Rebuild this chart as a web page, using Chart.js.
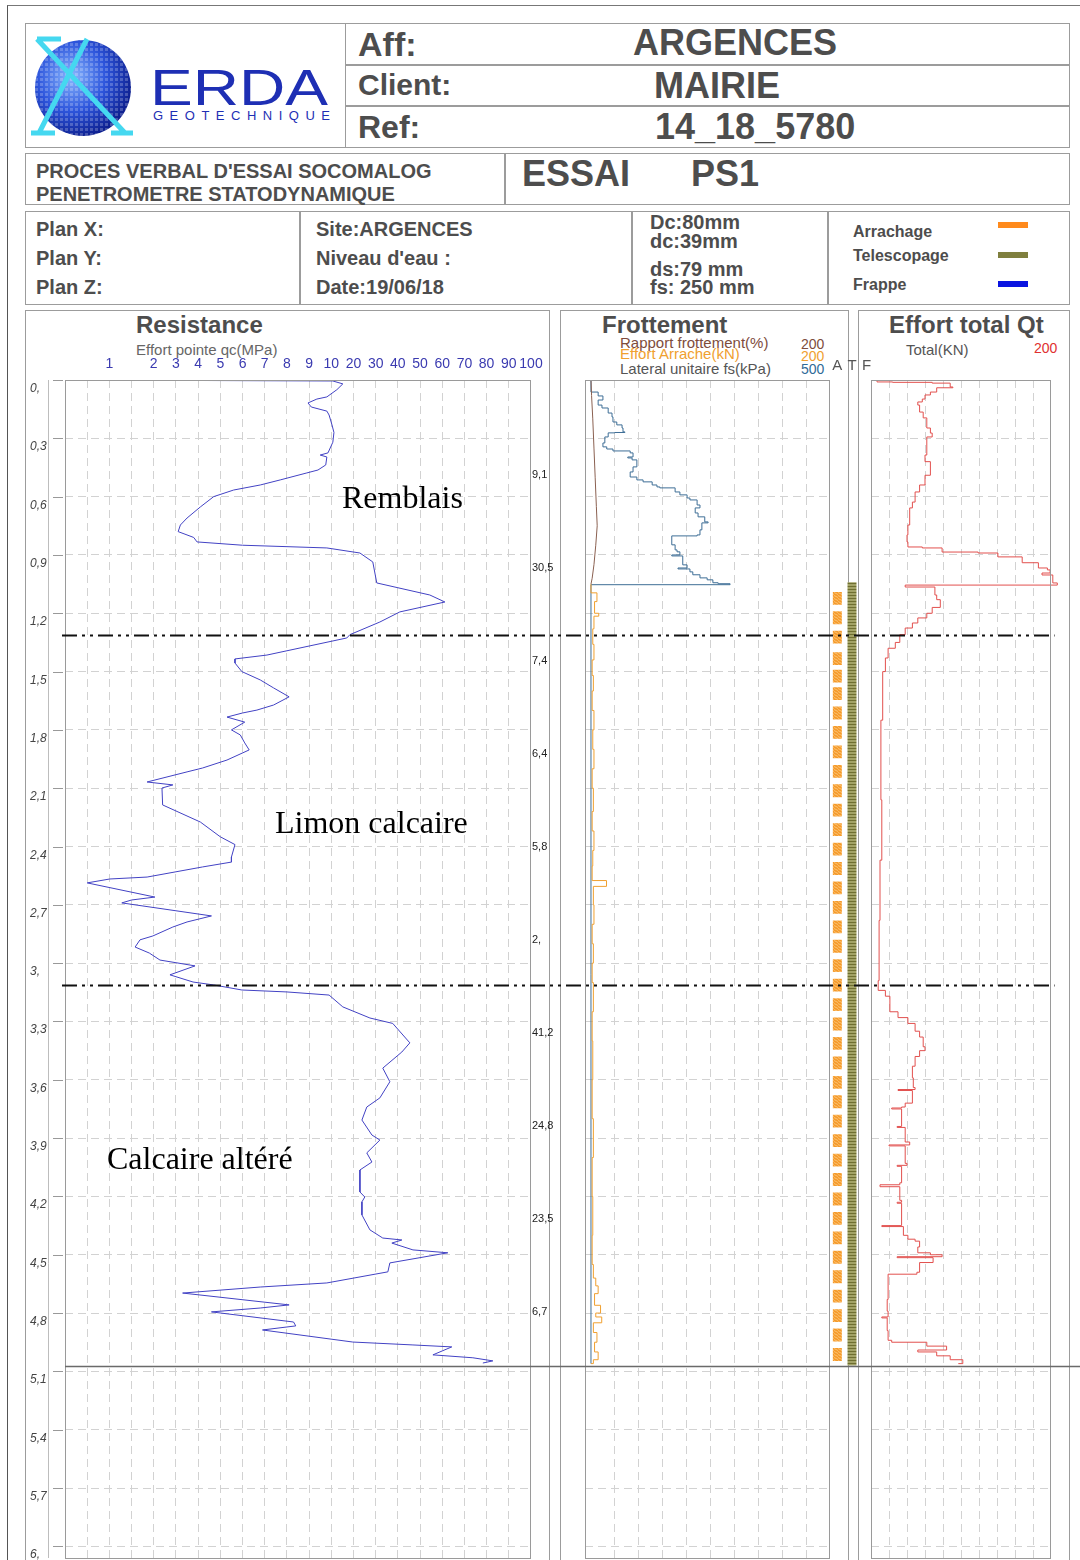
<!DOCTYPE html>
<html>
<head>
<meta charset="utf-8">
<script src="https://cdn.jsdelivr.net/npm/chart.js@4.4.1/dist/chart.umd.min.js"></script>
<style>
body { margin:0; background:#fff; font-family:"Liberation Sans", Arial, sans-serif; }
#page { position:relative; width:1080px; height:1560px; overflow:hidden; background:#fff; }
.abs { position:absolute; }
.cell { position:absolute; border:1.5px solid #9c9c9c; box-sizing:border-box; }
.t { position:absolute; white-space:nowrap; color:#4d4d4d; font-weight:bold; line-height:1; }
.n { position:absolute; white-space:nowrap; line-height:1; }
.layer { position:absolute; white-space:nowrap; line-height:1; font-family:"Liberation Serif", "Times New Roman", serif; font-size:32px; color:#000; }
canvas { position:absolute; }
</style>
</head>
<body>
<div id="page">
  <!-- page frame -->
  <div class="abs" style="left:7px;top:5px;width:1080px;height:1560px;border-left:1.5px solid #555;border-top:1.5px solid #777;"></div>

  <!-- header box 1 -->
  <div class="cell" style="left:25px;top:23px;width:321px;height:125px;"></div>
  <div class="cell" style="left:345px;top:23px;width:725px;height:43px;"></div>
  <div class="cell" style="left:345px;top:64px;width:725px;height:43px;"></div>
  <div class="cell" style="left:345px;top:105px;width:725px;height:43px;"></div>
  <svg class="abs" style="left:25px;top:23px" width="320" height="125">
    <defs>
      <radialGradient id="gl" cx="38%" cy="38%" r="65%">
        <stop offset="0" stop-color="#8ab8ff"/>
        <stop offset="0.55" stop-color="#2d55dc"/>
        <stop offset="1" stop-color="#0e2090"/>
      </radialGradient>
      <pattern id="dots" width="5" height="5" patternUnits="userSpaceOnUse">
        <rect x="0" y="0" width="3" height="3" fill="rgba(255,255,255,0.22)"/>
      </pattern>
    </defs>
    <circle cx="58" cy="65" r="48" fill="url(#gl)"/>
    <circle cx="58" cy="65" r="48" fill="url(#dots)"/>
    <path d="M12 16 L100 110 M62 16 L14 110 M6 110 L30 110 M86 110 L108 110 M12 16 L36 16" stroke="#45d8f0" stroke-width="5" fill="none"/>
    <text x="125" y="82" font-family="Liberation Sans, Arial" font-size="50" fill="#1e2fb4" textLength="178" lengthAdjust="spacingAndGlyphs">ERDA</text>
    <text x="128" y="97" font-family="Liberation Sans, Arial" font-size="13" fill="#1e2fb4" textLength="177" lengthAdjust="spacing">GEOTECHNIQUE</text>
  </svg>
  <div class="t" style="left:358px;top:27px;font-size:34px;">Aff:</div>
  <div class="t" style="left:633px;top:25px;font-size:36px;">ARGENCES</div>
  <div class="t" style="left:358px;top:70px;font-size:30px;">Client:</div>
  <div class="t" style="left:654px;top:68px;font-size:36px;">MAIRIE</div>
  <div class="t" style="left:358px;top:111px;font-size:32px;">Ref:</div>
  <div class="t" style="left:655px;top:109px;font-size:36px;">14_18_5780</div>

  <!-- header box 2 -->
  <div class="cell" style="left:25px;top:153px;width:481px;height:52px;"></div>
  <div class="cell" style="left:504px;top:153px;width:566px;height:52px;"></div>
  <div class="t" style="left:36px;top:161px;font-size:20px;">PROCES VERBAL D'ESSAI SOCOMALOG</div>
  <div class="t" style="left:36px;top:184px;font-size:20px;">PENETROMETRE STATODYNAMIQUE</div>
  <div class="t" style="left:522px;top:156px;font-size:36px;">ESSAI</div>
  <div class="t" style="left:691px;top:156px;font-size:36px;">PS1</div>

  <!-- header box 3 -->
  <div class="cell" style="left:25px;top:211px;width:276px;height:94px;"></div>
  <div class="cell" style="left:299px;top:211px;width:334px;height:94px;"></div>
  <div class="cell" style="left:631px;top:211px;width:198px;height:94px;"></div>
  <div class="cell" style="left:827px;top:211px;width:243px;height:94px;"></div>
  <div class="t" style="left:36px;top:219px;font-size:20px;">Plan X:</div>
  <div class="t" style="left:36px;top:248px;font-size:20px;">Plan Y:</div>
  <div class="t" style="left:36px;top:277px;font-size:20px;">Plan Z:</div>
  <div class="t" style="left:316px;top:219px;font-size:20px;">Site:ARGENCES</div>
  <div class="t" style="left:316px;top:248px;font-size:20px;">Niveau d'eau :</div>
  <div class="t" style="left:316px;top:277px;font-size:20px;">Date:19/06/18</div>
  <div class="t" style="left:650px;top:212px;font-size:20px;">Dc:80mm</div>
  <div class="t" style="left:650px;top:231px;font-size:20px;">dc:39mm</div>
  <div class="t" style="left:650px;top:259px;font-size:20px;">ds:79 mm</div>
  <div class="t" style="left:650px;top:277px;font-size:20px;">fs: 250 mm</div>
  <div class="t" style="left:853px;top:224px;font-size:16px;">Arrachage</div>
  <div class="t" style="left:853px;top:248px;font-size:16px;">Telescopage</div>
  <div class="t" style="left:853px;top:277px;font-size:16px;">Frappe</div>
  <div class="abs" style="left:998px;top:222px;width:30px;height:6px;background:#ff8a1c;"></div>
  <div class="abs" style="left:998px;top:252px;width:30px;height:6px;background:#7f7f3e;"></div>
  <div class="abs" style="left:998px;top:281px;width:30px;height:6px;background:#0a14e0;"></div>

  <!-- panels -->
  <div class="cell" style="left:25px;top:310px;width:525px;height:1270px;"></div>
  <div class="cell" style="left:560px;top:310px;width:289px;height:1270px;"></div>
  <div class="cell" style="left:858px;top:310px;width:212px;height:1270px;"></div>

  <div class="t" style="left:136px;top:313px;font-size:24px;">Resistance</div>
  <div class="n" style="left:136px;top:342px;font-size:15px;color:#666;">Effort pointe qc(MPa)</div>
  <div class="t" style="left:602px;top:313px;font-size:24px;">Frottement</div>
  <div class="n" style="left:620px;top:335px;font-size:15px;color:#7e4c3c;">Rapport frottement(%)</div>
  <div class="n" style="left:620px;top:346px;font-size:15px;color:#f0a030;">Effort Arrache(kN)</div>
  <div class="n" style="left:620px;top:361px;font-size:15px;color:#555;">Lateral unitaire fs(kPa)</div>
  <div class="n" style="left:801px;top:337px;font-size:14px;color:#7e4c3c;">200</div>
  <div class="n" style="left:801px;top:349px;font-size:14px;color:#f0a030;">200</div>
  <div class="n" style="left:801px;top:362px;font-size:14px;color:#2f6a98;">500</div>
  <div class="t" style="left:889px;top:313px;font-size:24px;">Effort total Qt</div>
  <div class="n" style="left:906px;top:342px;font-size:15px;color:#555;">Total(KN)</div>
  <div class="n" style="left:1034px;top:341px;font-size:14px;color:#e03030;">200</div>

  <canvas id="resChart" width="535" height="1250" style="left:25px;top:310px;"></canvas>
  <canvas id="frotChart" width="275" height="1250" style="left:560px;top:310px;"></canvas>
  <canvas id="atfChart" width="44" height="1250" style="left:830px;top:310px;"></canvas>
  <canvas id="qtChart" width="211" height="1250" style="left:858px;top:310px;"></canvas>

  <div class="layer" style="left:342px;top:481px;">Remblais</div>
  <div class="layer" style="left:275px;top:806px;">Limon calcaire</div>
  <div class="layer" style="left:107px;top:1142px;">Calcaire altéré</div>

  <canvas id="overlay" width="1025" height="1250" style="left:55px;top:310px;pointer-events:none;"></canvas>
</div>

<script>
// ---- data ----
const depthTicks = [0, 0.3, 0.6, 0.9, 1.2, 1.5, 1.8, 2.1, 2.4, 2.7, 3, 3.3, 3.6, 3.9, 4.2, 4.5, 4.8, 5.1, 5.4, 5.7, 6];
const depthTickLabels = ['0,', '0,3', '0,6', '0,9', '1,2', '1,5', '1,8', '2,1', '2,4', '2,7', '3,', '3,3', '3,6', '3,9', '4,2', '4,5', '4,8', '5,1', '5,4', '5,7', '6,'];

const qcTickValues = [1, 2, 3, 4, 5, 6, 7, 8, 9, 10, 20, 30, 40, 50, 60, 70, 80, 90, 100];
const qcTickLabels = ['1', '2', '3', '4', '5', '6', '7', '8', '9', '10', '20', '30', '40', '50', '60', '70', '80', '90', '100'];
const qcGridValues = [0.5, 1, 1.5, 2, 3, 4, 5, 6, 7, 8, 9, 10, 20, 30, 40, 50, 60, 70, 80, 90];

// Effort pointe qc (MPa) vs depth (m)
const qcDepth = [0, 0.005, 0.02, 0.05, 0.087, 0.098, 0.118, 0.139, 0.16, 0.18,
  0.23, 0.27, 0.32, 0.375, 0.386, 0.396, 0.437, 0.463, 0.478, 0.514,
  0.54, 0.566, 0.60, 0.653, 0.71, 0.746, 0.78, 0.81, 0.833, 0.85,
  0.864, 0.89, 0.936, 1.044, 1.106, 1.142, 1.193, 1.245, 1.31, 1.327,
  1.415, 1.435, 1.456, 1.50, 1.543, 1.584, 1.63, 1.672, 1.698, 1.713,
  1.734, 1.76, 1.80, 1.826, 1.867, 1.903, 1.955, 1.996, 2.016, 2.068,
  2.083, 2.099, 2.186, 2.274, 2.35, 2.39, 2.454, 2.48, 2.505, 2.557,
  2.567, 2.587, 2.66, 2.675, 2.69, 2.757, 2.788, 2.814, 2.86, 2.88,
  2.917, 2.948, 2.984, 3.014, 3.06, 3.097, 3.112, 3.138, 3.148, 3.164,
  3.225, 3.282, 3.31, 3.41, 3.457, 3.54, 3.61, 3.693, 3.74, 3.807,
  3.884, 3.91, 3.976, 4.023, 4.064, 4.177, 4.203, 4.228, 4.295, 4.372,
  4.414, 4.424, 4.44, 4.475, 4.49, 4.542, 4.588, 4.645, 4.666, 4.697,
  4.758, 4.774, 4.794, 4.846, 4.866, 4.887, 4.949, 4.964, 4.974, 5.015,
  5.03, 5.046, 5.057];
const qcMPa = [0, 10.7, 15.2, 12.5, 9.8, 9.35, 8.95, 9.1, 9.8, 9.9,
  10.3, 11.2, 10.7, 9.85, 9.5, 9.8, 9.75, 9.4, 8.9, 7.7,
  6.8, 5.6, 4.7, 4.1, 3.5, 3.2, 3.1, 3.8, 3.95, 6.0,
  9.8, 22.9, 28.7, 30.5, 54.4, 61.2, 40.9, 31.9, 18.4, 17.0,
  7.1, 5.66, 5.66, 5.97, 6.8, 7.4, 8.1, 7.4, 6.65, 6.0,
  5.3, 6.1, 5.5, 5.9, 6.1, 6.3, 5.3, 4.2, 3.5, 1.85,
  2.86, 2.37, 2.4, 4.1, 5.0, 5.66, 5.5, 5.5, 4.2, 1.85,
  1.01, 0.5, 2.05, 1.5, 1.28, 4.6, 3.5, 2.86, 1.98, 1.69,
  1.58, 1.9, 2.28, 3.86, 2.73, 3.77, 4.7, 5.97, 8.0, 9.9,
  15.2, 27.4, 37.7, 45.4, 41.8, 33.2, 36.4, 31.9, 26.0, 23.8,
  28.3, 31.9, 26.0, 28.3, 22.9, 22.9, 25.1, 23.8, 23.8, 27.4,
  33.2, 41.8, 37.3, 46.8, 62.5, 36.4, 35.5, 9.8, 6.8, 3.3,
  8.1, 6.8, 4.6, 8.3, 8.4, 6.9, 19.7, 46.8, 64.3, 55.8,
  73.8, 82.8, 78.3];

// Lateral unitaire fs (kPa), stepped
const fsDepth = [0, 0.062, 0.082, 0.103, 0.129, 0.144, 0.170, 0.190, 0.216, 0.231,
  0.247, 0.267, 0.270, 0.272, 0.293, 0.324, 0.344, 0.355, 0.365, 0.375,
  0.396, 0.401, 0.411, 0.447, 0.473, 0.499, 0.514, 0.524, 0.540, 0.550,
  0.555, 0.576, 0.591, 0.607, 0.617, 0.643, 0.658, 0.684, 0.704, 0.730,
  0.735, 0.771, 0.797, 0.802, 0.848, 0.874, 0.884, 0.900, 0.905, 0.951,
  0.967, 0.972, 0.987, 1.002, 1.018, 1.028, 1.043, 1.048, 1.053, 5.06];
const fsKPa = [0, 15, 25, 15, 23, 36, 44, 46, 54, 65,
  67, 71, 50, 36, 29, 25, 33, 46, 82, 88,
  77, 86, 96, 88, 82, 96, 109, 128, 138, 144,
  176, 186, 201, 207, 222, 228, 218, 224, 238, 245,
  232, 228, 222, 169, 176, 180, 186, 169, 192, 201,
  182, 207, 213, 228, 243, 255, 266, 291, 0, 0];

// Rapport frottement (%)
const ratioDepth = [0, 0.08, 0.2, 0.35, 0.5, 0.65, 0.75, 0.85, 0.95, 1.02, 1.05];
const ratioPct = [0, 0.5, 1.5, 2.5, 3.5, 4.5, 5.2, 4, 2.5, 1, 0];

// Effort arrache (kN), stepped
const arrDepth = [1.05, 1.095, 1.14, 1.2, 1.215, 1.28, 1.36, 1.44, 1.52, 1.6,
  1.7, 1.8, 1.9, 2.0, 2.1, 2.22, 2.32, 2.42, 2.5, 2.575,
  2.605, 2.7, 2.8, 2.9, 3.0, 3.1, 3.25, 3.4, 3.6, 3.8,
  4.0, 4.2, 4.4, 4.55, 4.62, 4.66, 4.7, 4.76, 4.8, 4.82,
  4.85, 4.9, 4.95, 5.0, 5.04, 5.06];
const arrKN = [0, 5, 3, 6.5, 2.5, 1.5, 2.5, 1, 2, 1,
  2.5, 1.5, 2.5, 1, 2, 1, 2.5, 1.5, 1, 13,
  2, 2.5, 1, 2, 1, 2, 1, 1.5, 1, 2,
  1, 1.5, 1, 2, 4, 6, 3, 8, 4, 9,
  2, 5, 3, 6, 2, 0];

// Effort total Qt (kN), stepped
const qtDepth = [0, 0.01, 0.012, 0.016, 0.036, 0.04, 0.062, 0.077, 0.098, 0.113,
  0.129, 0.165, 0.195, 0.247, 0.273, 0.293, 0.386, 0.42, 0.49, 0.54,
  0.576, 0.628, 0.658, 0.746, 0.797, 0.833, 0.859, 0.864, 0.885, 0.89,
  0.91, 0.94, 0.967, 0.977, 0.993, 1.003, 1.044, 1.055, 1.065, 1.106,
  1.13, 1.17, 1.2, 1.224, 1.25, 1.276, 1.31, 1.35, 1.38, 1.43,
  1.5, 1.75, 2.16, 2.47, 2.78, 3.09, 3.14, 3.17, 3.25, 3.28,
  3.31, 3.35, 3.38, 3.43, 3.45, 3.48, 3.53, 3.59, 3.64, 3.65,
  3.655, 3.72, 3.74, 3.745, 3.75, 3.84, 3.845, 3.92, 3.935, 3.94,
  4.03, 4.04, 4.045, 4.13, 4.14, 4.15, 4.22, 4.23, 4.235, 4.35,
  4.355, 4.40, 4.42, 4.43, 4.46, 4.49, 4.50, 4.51, 4.515, 4.54,
  4.59, 4.60, 4.73, 4.79, 4.82, 4.825, 4.89, 4.94, 4.95, 4.97,
  4.99, 5.00, 5.02, 5.04, 5.06];
const qtKN = [6.7, 24, 68, 88, 91, 73, 66, 60, 57, 52,
  54, 58, 62, 66, 68, 62, 60, 66, 60, 54,
  49, 46, 43, 41, 40, 41, 57, 79, 119, 141,
  168, 186, 196, 199, 190, 202, 207, 38, 71, 73,
  77, 68, 62, 52, 46, 38, 32, 27, 19, 16,
  13, 11, 12, 10, 9, 8, 16, 21, 30, 41,
  49, 54, 58, 60, 54, 49, 46, 47, 49, 30,
  46, 38, 34, 23, 34, 29, 38, 43, 20, 38,
  40, 29, 34, 32, 10, 32, 34, 29, 34, 12,
  36, 41, 49, 54, 52, 66, 79, 29, 69, 54,
  51, 19, 18, 19, 12, 18, 19, 23, 62, 84,
  52, 73, 88, 102, 97];

// values printed at the right edge of the resistance plot
const sideLabels = ['9,1', '30,5', '7,4', '6,4', '5,8', '2,', '41,2', '24,8', '23,5', '6,7'];
const sideLabelDepths = [0.489, 0.967, 1.446, 1.924, 2.402, 2.881, 3.359, 3.837, 4.316, 4.794];

// A T F columns: arrachage blocks start depths, telescopage range
const atfLabels = ['A', 'T', 'F'];
const arrachageDepths = [1.09, 1.19, 1.29, 1.40, 1.49, 1.58, 1.68, 1.78, 1.88, 1.98,
  2.08, 2.18, 2.28, 2.38, 2.48, 2.58, 2.68, 2.78, 2.88, 2.98,
  3.08, 3.18, 3.28, 3.38, 3.48, 3.58, 3.68, 3.78, 3.88, 3.98,
  4.08, 4.18, 4.28, 4.38, 4.48, 4.58, 4.68, 4.78, 4.88, 4.98];
const telescopageRange = [1.04, 5.07];

// layer boundaries and end of test
const layerBoundaries = [1.315, 3.115];
const testEndDepth = 5.075;

// ---- layout/styling ----
const DEPTH_MAX = 6.06;
const QC_GRID_MAX = 21;
const FRAME = '#9a9a9a';
const GRID = '#d2d2d2';
const FONT = '"Liberation Sans", Arial, sans-serif';

// qc axis is piecewise: 0-2 at double step, 2-10 linear, 10-100 by tens
function qcToGrid(v) {
    if (v <= 2) return v * 2;
    if (v <= 10) return v + 2;
    return 12 + (v - 10) / 10;
}
function gridToQc(g) {
    if (g <= 4) return g / 2;
    if (g <= 12) return g - 2;
    return 10 + (g - 12) * 10;
}

class QcScale extends Chart.LinearScale {
    getPixelForValue(value) {
        if (value === null || isNaN(value)) return NaN;
        return this.getPixelForDecimal(qcToGrid(value) / QC_GRID_MAX);
    }
    getValueForPixel(pixel) {
        return gridToQc(this.getDecimalForPixel(pixel) * QC_GRID_MAX);
    }
}
QcScale.id = 'qcPiecewise';
QcScale.defaults = {};
Chart.register(QcScale);

function points(xs, ys) {
    return xs.map((v, i) => ({x: v, y: ys[i]}));
}

function depthAxis(showGrid) {
    return {
        type: 'linear', reverse: true, min: 0, max: DEPTH_MAX,
        display: showGrid,
        ticks: {display: false},
        grid: {color: GRID, drawTicks: false, lineWidth: 1},
        border: {display: false, dash: [8, 5]},
        afterBuildTicks: s => { s.ticks = depthTicks.map(v => ({value: v})); }
    };
}

function valueAxis(type, min, max, gridVals, show) {
    return {
        type: type, min: min, max: max, display: show,
        position: 'top',
        ticks: {display: false},
        grid: {color: GRID, drawTicks: false, lineWidth: 1},
        border: {display: false, dash: [8, 5]},
        afterBuildTicks: s => { s.ticks = gridVals.map(v => ({value: v})); }
    };
}

function baseOptions(padding, scales) {
    return {
        animation: false, responsive: false, maintainAspectRatio: false,
        devicePixelRatio: 1, events: [],
        layout: {padding: padding},
        plugins: {legend: {display: false}, tooltip: {enabled: false}},
        elements: {point: {radius: 0}, line: {tension: 0}},
        scales: scales
    };
}

function frame(chart) {
    const {ctx, chartArea: a} = chart;
    ctx.save();
    ctx.strokeStyle = FRAME;
    ctx.lineWidth = 1;
    ctx.strokeRect(a.left + 0.5, a.top + 0.5, a.right - a.left - 1, a.bottom - a.top);
    ctx.restore();
}

const resistanceDecor = {
    id: 'resistanceDecor',
    afterDraw(chart) {
        frame(chart);
        const {ctx, chartArea: a, scales: {x, y}} = chart;
        ctx.save();
        ctx.strokeStyle = '#bdbdbd';
        ctx.lineWidth = 1;
        ctx.beginPath();
        ctx.moveTo(a.left - 16.5, a.top);
        ctx.lineTo(a.left - 16.5, a.bottom);
        ctx.stroke();
        ctx.strokeStyle = '#999';
        ctx.fillStyle = '#444';
        ctx.font = 'italic 12px ' + FONT;
        ctx.textAlign = 'left';
        ctx.textBaseline = 'middle';
        depthTicks.forEach((d, i) => {
            const py = Math.round(y.getPixelForValue(d)) + 0.5;
            ctx.beginPath();
            ctx.moveTo(a.left - 12, py);
            ctx.lineTo(a.left - 2, py);
            ctx.stroke();
            ctx.fillText(depthTickLabels[i], a.left - 35, py + 8);
        });
        // qc tick labels along the top
        ctx.fillStyle = '#3a3ab0';
        ctx.font = '14px ' + FONT;
        ctx.textAlign = 'center';
        qcTickValues.forEach((v, i) => {
            ctx.fillText(qcTickLabels[i], x.getPixelForValue(v), a.top - 16);
        });
        ctx.fillStyle = '#222';
        ctx.font = '11px ' + FONT;
        ctx.textAlign = 'left';
        sideLabels.forEach((s, i) => {
            ctx.fillText(s, a.right + 1, y.getPixelForValue(sideLabelDepths[i]));
        });
        ctx.restore();
    }
};

const frameDecor = {id: 'frameDecor', afterDraw: frame};

const atfDecor = {
    id: 'atfDecor',
    afterDraw(chart) {
        const {ctx, chartArea: a, scales: {x}} = chart;
        ctx.save();
        ctx.fillStyle = '#555';
        ctx.font = '15px ' + FONT;
        ctx.textAlign = 'center';
        ctx.textBaseline = 'middle';
        atfLabels.forEach((l, i) => ctx.fillText(l, x.getPixelForValue(i), a.top - 14));
        ctx.restore();
    }
};

function stripes(w, h, bg, fg, draw) {
    const c = document.createElement('canvas');
    c.width = w; c.height = h;
    const g = c.getContext('2d');
    g.fillStyle = bg;
    g.fillRect(0, 0, w, h);
    g.strokeStyle = fg;
    g.lineWidth = 1;
    draw(g);
    return g.createPattern(c, 'repeat');
}

// ---- charts ----
new Chart(document.getElementById('resChart'), {
    type: 'line',
    data: {datasets: [{
        data: points(qcMPa, qcDepth),
        borderColor: '#4242c4', borderWidth: 1
    }]},
    options: baseOptions({left: 40, right: 29, top: 70, bottom: 2}, {
        x: valueAxis('qcPiecewise', 0, 100, qcGridValues, true),
        y: depthAxis(true)
    }),
    plugins: [resistanceDecor]
});

new Chart(document.getElementById('frotChart'), {
    type: 'line',
    data: {datasets: [
        {data: points(ratioPct, ratioDepth), xAxisID: 'xr', borderColor: '#8a6050', borderWidth: 1},
        {data: points(arrKN, arrDepth), xAxisID: 'xa', borderColor: '#f0a030', borderWidth: 1, stepped: 'after'},
        {data: points(fsKPa, fsDepth), xAxisID: 'x', borderColor: '#3e6e96', borderWidth: 1, stepped: 'after'}
    ]},
    options: baseOptions({left: 25, right: 5, top: 70, bottom: 2}, {
        x: valueAxis('linear', -12.5, 500, [50, 100, 150, 200, 250, 300, 350, 400, 450], true),
        xr: valueAxis('linear', -5, 200, [], false),
        xa: valueAxis('linear', -5, 200, [], false),
        y: depthAxis(true)
    }),
    plugins: [frameDecor]
});

const atfCtx = document.getElementById('atfChart').getContext('2d');
const orangeHatch = stripes(4, 3, '#f59a2a', '#fbc275', g => {
    g.beginPath(); g.moveTo(0, 0.5); g.lineTo(4, 2.5); g.stroke();
});
const oliveHatch = stripes(4, 3, '#a3a366', '#6f6f30', g => {
    g.beginPath(); g.moveTo(0, 0.5); g.lineTo(4, 0.5); g.stroke();
});
const arrBlocks = [];
arrachageDepths.forEach(d => {
    arrBlocks.push({x: 'A', y: d}, {x: 'A', y: d + 0.066}, {x: 'A', y: null});
});
new Chart(atfCtx, {
    type: 'line',
    data: {datasets: [
        {data: arrBlocks, borderColor: orangeHatch, borderWidth: 9, spanGaps: false},
        {data: telescopageRange.map(d => ({x: 'T', y: d})), borderColor: oliveHatch, borderWidth: 9}
    ]},
    options: baseOptions({left: 0, right: 0, top: 70, bottom: 2}, {
        x: {type: 'category', labels: atfLabels, offset: true, display: false},
        y: depthAxis(false)
    }),
    plugins: [atfDecor]
});

new Chart(document.getElementById('qtChart'), {
    type: 'line',
    data: {datasets: [{
        data: points(qtKN, qtDepth),
        borderColor: '#e2504e', borderWidth: 1, stepped: 'after', clip: 10
    }]},
    options: baseOptions({left: 13, right: 18, top: 70, bottom: 2}, {
        x: valueAxis('linear', 0, 200, [20, 40, 60, 80, 100, 120, 140, 160, 180], true),
        y: depthAxis(true)
    }),
    plugins: [frameDecor]
});

// boundaries across all panels
const boundaryDatasets = layerBoundaries.map(d => ({
    data: [{x: 0, y: d}, {x: 0.975, y: d}],
    borderColor: '#111', borderWidth: 2, borderDash: [15, 5, 3, 5, 3, 5]
}));
boundaryDatasets.push({
    data: [{x: 0.003, y: testEndDepth}, {x: 1, y: testEndDepth}],
    borderColor: '#6a6a6a', borderWidth: 1.5
});
new Chart(document.getElementById('overlay'), {
    type: 'line',
    data: {datasets: boundaryDatasets},
    options: baseOptions({left: 7, right: 0, top: 70, bottom: 2}, {
        x: {type: 'linear', min: 0, max: 1, display: false},
        y: depthAxis(false)
    })
});
</script>
</body>
</html>
